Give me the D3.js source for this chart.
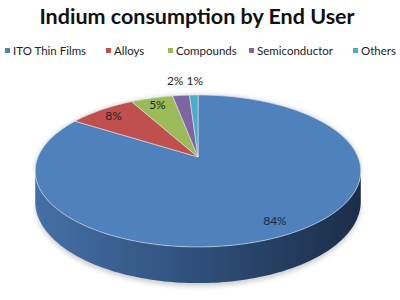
<!DOCTYPE html>
<html>
<head>
<meta charset="utf-8">
<script src="https://cdn.jsdelivr.net/npm/d3@7/dist/d3.min.js"></script>
<style>
  body { margin: 0; background: #fff; }
  svg { display: block; }
</style>
</head>
<body>
<div class="chart"></div>
<script>
// data
const categories = ['ITO Thin Films', 'Alloys', 'Compounds', 'Semiconductor', 'Others'];
const shares = [84, 8, 5, 2, 1];
const colors = ['#4f81bd', '#c0504d', '#9bbb59', '#8064a2', '#4bacc6'];

const width = 400, height = 300;

const svg = d3.select('.chart').append('svg')
    .attr('width', width)
    .attr('height', height);

const defs = svg.append('defs');
const grad = defs.append('linearGradient')
    .attr('id', 'side')
    .attr('x1', 0).attr('x2', 1).attr('y1', 0).attr('y2', 0);
grad.append('stop').attr('offset', '0%').attr('stop-color', '#4570a6');
grad.append('stop').attr('offset', '50%').attr('stop-color', '#2f4f7a');
grad.append('stop').attr('offset', '100%').attr('stop-color', '#1b2d48');
defs.append('filter').attr('id', 'blur')
    .append('feGaussianBlur').attr('stdDeviation', 2.5);

// title
svg.append('text')
    .attr('x', 197).attr('y', 24)
    .attr('text-anchor', 'middle')
    .attr('font-family', 'Lato, sans-serif')
    .attr('font-weight', 'bold')
    .attr('font-size', 21.5)
    .attr('fill', '#111')
    .text('Indium consumption by End User');

// legend
const legendX = [5, 106, 168, 249, 353];
const legend = svg.append('g').attr('font-family', 'Lato, sans-serif').attr('font-size', 11.5);
categories.forEach((c, i) => {
    legend.append('rect')
        .attr('x', legendX[i]).attr('y', 48)
        .attr('width', 5).attr('height', 5)
        .attr('fill', colors[i]);
    legend.append('text')
        .attr('x', legendX[i] + 8).attr('y', 55)
        .attr('fill', '#222')
        .text(c);
});

// perspective projection of the pie disc
const cx = 198, cy = 157, A = 160, B = 73.4, k = 0.184, D = 29.5;
function proj(theta, f = 1, drop = 0) {
    const v = Math.cos(theta) * f, u = Math.sin(theta) * f;
    const s = 1 + k * v;
    return [cx + A * u / s, cy - B * v / s + drop * D / s];
}
function arcPoints(a0, a1, drop = 0) {
    const n = Math.max(2, Math.ceil(Math.abs(a1 - a0) / 0.02));
    return d3.range(n + 1).map(i => proj(a0 + (a1 - a0) * i / n, 1, drop));
}
const line = d3.line();

const arcs = d3.pie().sort(null)(shares);

// shadow under the pie
const tL = Math.acos(-k), tR = 2 * Math.PI - Math.acos(-k);
const shadowPts = arcPoints(tL, tR, 1).map(p => [p[0], p[1] + 3]);
svg.append('path')
    .attr('d', line(arcPoints(tR, tL + 2 * Math.PI).concat(shadowPts.reverse())) + 'Z')
    .attr('fill', '#999')
    .attr('opacity', 0.5)
    .attr('filter', 'url(#blur)');

// side wall
const sideTop = arcPoints(tL, tR);
const sideBottom = arcPoints(tL, tR, 1).reverse();
svg.append('path')
    .attr('d', line(sideTop.concat(sideBottom)) + 'Z')
    .attr('fill', 'url(#side)');

// top face slices
svg.append('g').selectAll('path')
    .data(arcs)
    .join('path')
    .attr('d', d => line([[cx, cy]].concat(arcPoints(d.startAngle, d.endAngle))) + 'Z')
    .attr('fill', (d, i) => colors[i])
    .attr('stroke', '#dfe6ef')
    .attr('stroke-width', 0.6)
    .attr('stroke-linejoin', 'round');

// labels (small slices go outside, pushed apart a little)
svg.append('g').selectAll('text')
    .data(arcs)
    .join('text')
    .each(function(d, i) {
        const mid = (d.startAngle + d.endAngle) / 2;
        const outside = d.data < 3;
        const p = proj(mid, outside ? 1.28 : 0.86);
        const nudge = outside ? (i === arcs.length - 1 ? 2 : -2) : 0;
        d3.select(this).attr('x', p[0] + nudge).attr('y', p[1] + 4);
    })
    .attr('text-anchor', 'middle')
    .attr('font-family', 'Lato, sans-serif')
    .attr('font-size', 12)
    .attr('fill', (d, i) => i === 0 ? '#1a2a40' : '#222')
    .text(d => d.data + '%');
</script>
</body>
</html>
